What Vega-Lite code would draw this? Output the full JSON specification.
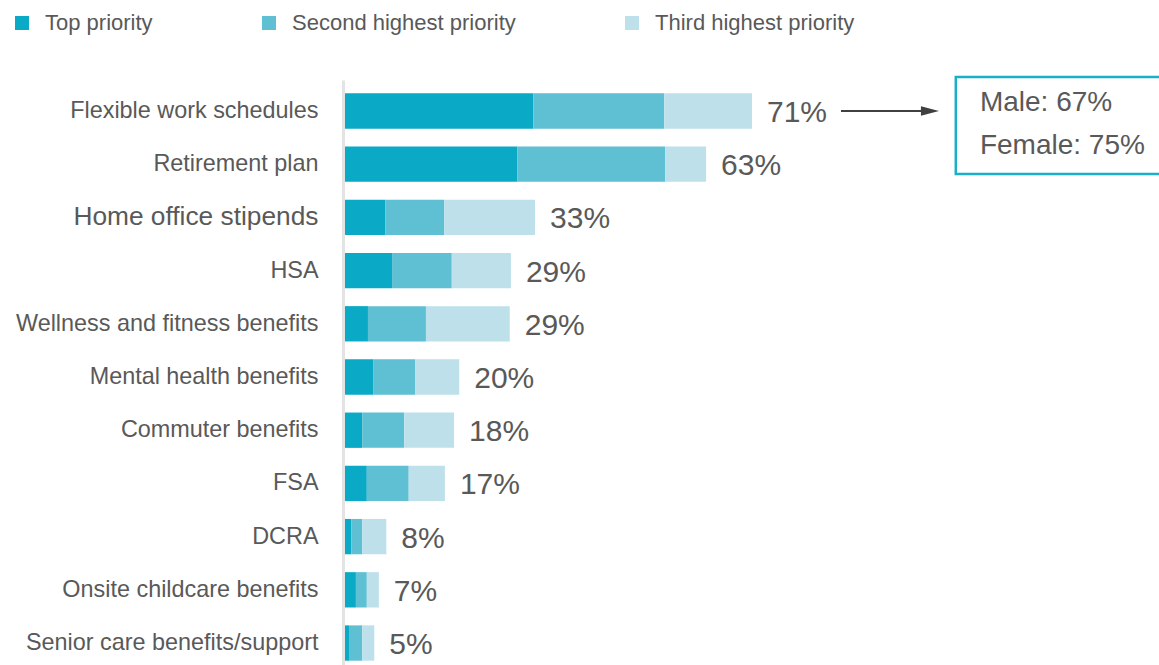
{
  "$schema": "https://vega.github.io/schema/vega-lite/v6.json",
  "width": 814,
  "height": 594,
  "autosize": {"type": "none"},
  "padding": {"left": 345, "top": 80, "right": 0, "bottom": 0},
  "background": "white",
  "config": {"view": {"stroke": null}, "font": "Liberation Sans, sans-serif"},
  "datasets": {
    "benefits": [
      {"benefit": "Flexible work schedules", "priority": "Top priority", "rank": 1, "value": 32.8, "total": "71%"},
      {"benefit": "Flexible work schedules", "priority": "Second highest priority", "rank": 2, "value": 22.8, "total": "71%"},
      {"benefit": "Flexible work schedules", "priority": "Third highest priority", "rank": 3, "value": 15.3, "total": "71%"},
      {"benefit": "Retirement plan", "priority": "Top priority", "rank": 1, "value": 30.0, "total": "63%"},
      {"benefit": "Retirement plan", "priority": "Second highest priority", "rank": 2, "value": 25.8, "total": "63%"},
      {"benefit": "Retirement plan", "priority": "Third highest priority", "rank": 3, "value": 7.1, "total": "63%"},
      {"benefit": "Home office stipends", "priority": "Top priority", "rank": 1, "value": 7.0, "total": "33%"},
      {"benefit": "Home office stipends", "priority": "Second highest priority", "rank": 2, "value": 10.3, "total": "33%"},
      {"benefit": "Home office stipends", "priority": "Third highest priority", "rank": 3, "value": 15.8, "total": "33%"},
      {"benefit": "HSA", "priority": "Top priority", "rank": 1, "value": 8.2, "total": "29%"},
      {"benefit": "HSA", "priority": "Second highest priority", "rank": 2, "value": 10.4, "total": "29%"},
      {"benefit": "HSA", "priority": "Third highest priority", "rank": 3, "value": 10.3, "total": "29%"},
      {"benefit": "Wellness and fitness benefits", "priority": "Top priority", "rank": 1, "value": 4.0, "total": "29%"},
      {"benefit": "Wellness and fitness benefits", "priority": "Second highest priority", "rank": 2, "value": 10.1, "total": "29%"},
      {"benefit": "Wellness and fitness benefits", "priority": "Third highest priority", "rank": 3, "value": 14.6, "total": "29%"},
      {"benefit": "Mental health benefits", "priority": "Top priority", "rank": 1, "value": 4.9, "total": "20%"},
      {"benefit": "Mental health benefits", "priority": "Second highest priority", "rank": 2, "value": 7.3, "total": "20%"},
      {"benefit": "Mental health benefits", "priority": "Third highest priority", "rank": 3, "value": 7.7, "total": "20%"},
      {"benefit": "Commuter benefits", "priority": "Top priority", "rank": 1, "value": 3.0, "total": "18%"},
      {"benefit": "Commuter benefits", "priority": "Second highest priority", "rank": 2, "value": 7.3, "total": "18%"},
      {"benefit": "Commuter benefits", "priority": "Third highest priority", "rank": 3, "value": 8.7, "total": "18%"},
      {"benefit": "FSA", "priority": "Top priority", "rank": 1, "value": 3.8, "total": "17%"},
      {"benefit": "FSA", "priority": "Second highest priority", "rank": 2, "value": 7.3, "total": "17%"},
      {"benefit": "FSA", "priority": "Third highest priority", "rank": 3, "value": 6.3, "total": "17%"},
      {"benefit": "DCRA", "priority": "Top priority", "rank": 1, "value": 1.1, "total": "8%"},
      {"benefit": "DCRA", "priority": "Second highest priority", "rank": 2, "value": 1.9, "total": "8%"},
      {"benefit": "DCRA", "priority": "Third highest priority", "rank": 3, "value": 4.2, "total": "8%"},
      {"benefit": "Onsite childcare benefits", "priority": "Top priority", "rank": 1, "value": 1.9, "total": "7%"},
      {"benefit": "Onsite childcare benefits", "priority": "Second highest priority", "rank": 2, "value": 1.9, "total": "7%"},
      {"benefit": "Onsite childcare benefits", "priority": "Third highest priority", "rank": 3, "value": 2.1, "total": "7%"},
      {"benefit": "Senior care benefits/support", "priority": "Top priority", "rank": 1, "value": 0.7, "total": "5%"},
      {"benefit": "Senior care benefits/support", "priority": "Second highest priority", "rank": 2, "value": 2.3, "total": "5%"},
      {"benefit": "Senior care benefits/support", "priority": "Third highest priority", "rank": 3, "value": 2.1, "total": "5%"}
    ],
    "notes": [
      {"note": "Male: 67%\nFemale: 75%"}
    ]
  },
  "layer": [
    {
      "data": {"name": "benefits"},
      "mark": {"type": "bar"},
      "encoding": {
        "y": {
          "field": "benefit",
          "type": "nominal",
          "sort": ["Flexible work schedules", "Retirement plan", "Home office stipends", "HSA", "Wellness and fitness benefits", "Mental health benefits", "Commuter benefits", "FSA", "DCRA", "Onsite childcare benefits", "Senior care benefits/support"],
          "scale": {"paddingInner": 0.336, "paddingOuter": 0.25},
          "axis": {
            "title": null,
            "ticks": false,
            "domainColor": "#e3e3e3",
            "domainWidth": 3,
            "offset": 2,
            "labelPadding": 25,
            "labelFontSize": {"condition": {"test": "datum.value === 'Home office stipends'", "value": 26.3}, "value": 23.4},
            "labelColor": "#595959",
            "labelLimit": 500
          }
        },
        "x": {
          "field": "value",
          "type": "quantitative",
          "stack": "zero",
          "scale": {"domain": [0, 141.8], "nice": false, "zero": true},
          "axis": null
        },
        "color": {
          "field": "priority",
          "type": "nominal",
          "scale": {
            "domain": ["Top priority", "Second highest priority", "Third highest priority"],
            "range": ["#0aa9c5", "#5fbfd3", "#bde0eb"]
          },
          "legend": {
            "title": null,
            "orient": "none",
            "legendX": -334,
            "legendY": -68,
            "direction": "horizontal",
            "symbolType": "square",
            "symbolSize": 196,
            "symbolStrokeWidth": 0,
            "labelFontSize": 22,
            "labelColor": "#595959",
            "labelOffset": 12,
            "columnPadding": 105,
            "labelLimit": 500,
            "padding": 0
          }
        },
        "order": {"field": "rank", "type": "quantitative"}
      }
    },
    {
      "data": {"name": "benefits"},
      "transform": [
        {"aggregate": [{"op": "sum", "field": "value", "as": "end"}], "groupby": ["benefit", "total"]}
      ],
      "mark": {"type": "text", "align": "left", "baseline": "middle", "dx": 15, "dy": 2, "fontSize": 30, "color": "#595959"},
      "encoding": {
        "y": {"field": "benefit", "type": "nominal", "sort": ["Flexible work schedules", "Retirement plan", "Home office stipends", "HSA", "Wellness and fitness benefits", "Mental health benefits", "Commuter benefits", "FSA", "DCRA", "Onsite childcare benefits", "Senior care benefits/support"]},
        "x": {"field": "end", "type": "quantitative"},
        "text": {"field": "total", "type": "nominal"}
      }
    },
    {
      "data": {"name": "notes"},
      "mark": {"type": "rule", "color": "#404040", "strokeWidth": 2},
      "encoding": {
        "y": {"datum": "Flexible work schedules", "type": "nominal"},
        "x": {"datum": 86.4, "type": "quantitative"},
        "x2": {"datum": 101}
      }
    },
    {
      "data": {"name": "notes"},
      "mark": {"type": "point", "shape": "M-1,-0.53L1,0L-1,0.53Z", "filled": true, "size": 324, "color": "#404040", "opacity": 1},
      "encoding": {
        "y": {"datum": "Flexible work schedules", "type": "nominal"},
        "x": {"datum": 101.9, "type": "quantitative"}
      }
    },
    {
      "data": {"name": "notes"},
      "mark": {"type": "rect", "fillOpacity": 0, "stroke": "#1aafc8", "strokeWidth": 2.5, "height": {"band": 2.75}, "yOffset": 14.5},
      "encoding": {
        "y": {"datum": "Flexible work schedules", "type": "nominal"},
        "x": {"datum": 106.4, "type": "quantitative"},
        "x2": {"datum": 142.5}
      }
    },
    {
      "data": {"name": "notes"},
      "mark": {"type": "text", "align": "left", "baseline": "middle", "dy": -8, "fontSize": 28, "lineHeight": 43.4, "lineBreak": "\n", "color": "#595959"},
      "encoding": {
        "y": {"datum": "Flexible work schedules", "type": "nominal"},
        "x": {"datum": 110.6, "type": "quantitative"},
        "text": {"field": "note", "type": "nominal"}
      }
    }
  ]
}
